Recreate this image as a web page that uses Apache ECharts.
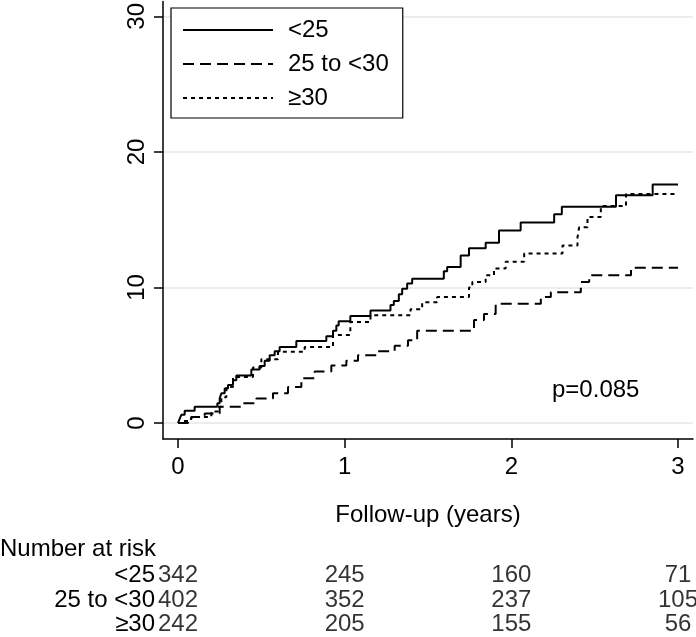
<!DOCTYPE html>
<html>
<head>
<meta charset="utf-8">
<script src="https://cdn.jsdelivr.net/npm/echarts@6/dist/echarts.min.js"></script>
<style>
html,body{margin:0;padding:0;background:#fff;}
#c{width:696px;height:637px;}
</style>
</head>
<body>
<div id="c"></div>
<script>
// ---- data (cumulative incidence, %, vs follow-up years) ----
var seriesNames = ['<25', '25 to <30', '\u226530'];
var lt25 = [[0,0],[0.01,0.3],[0.02,0.6],[0.04,0.9],[0.1,1.2],[0.236,1.45],[0.25,1.8],[0.26,2.2],[0.28,2.55],[0.3,2.8],[0.33,3.15],[0.35,3.5],[0.44,3.95],[0.49,4.2],[0.52,4.6],[0.55,5.0],[0.58,5.3],[0.61,5.6],[0.71,6.05],[0.89,6.4],[0.93,6.8],[0.95,7.2],[0.964,7.5],[1.034,7.9],[1.155,8.3],[1.275,8.7],[1.295,9.0],[1.325,9.5],[1.345,9.9],[1.375,10.3],[1.405,10.65],[1.595,11.2],[1.615,11.5],[1.696,12.35],[1.746,12.9],[1.846,13.3],[1.926,14.2],[2.056,14.8],[2.257,15.4],[2.303,15.95],[2.628,16.8],[2.848,17.6],[3.0,17.6]];
var bmi25to30 = [[0,0],[0.06,0.3],[0.08,0.45],[0.16,0.7],[0.25,1.2],[0.38,1.45],[0.47,1.8],[0.57,2.2],[0.66,2.65],[0.74,3.3],[0.82,3.8],[0.92,4.25],[1.01,4.6],[1.08,5.0],[1.2,5.3],[1.3,5.7],[1.38,6.1],[1.435,6.8],[1.776,7.6],[1.836,8.05],[1.906,8.8],[2.177,9.3],[2.237,9.65],[2.417,10.4],[2.467,10.9],[2.718,11.45],[3.0,11.45]];
var ge30 = [[0,0],[0.03,0.15],[0.06,0.3],[0.08,0.45],[0.2,0.85],[0.24,1.2],[0.26,1.9],[0.29,2.65],[0.33,3.4],[0.45,4.1],[0.5,4.7],[0.6,5.25],[0.76,5.6],[0.93,6.5],[1.034,7.45],[1.155,7.95],[1.395,8.4],[1.465,8.9],[1.555,9.3],[1.746,10.0],[1.766,10.4],[1.846,10.9],[1.896,11.4],[1.966,11.9],[2.077,12.5],[2.307,13.1],[2.397,13.7],[2.407,14.45],[2.457,15.2],[2.537,16.0],[2.688,16.9],[3.0,16.9]];
var xTicks = [0, 1, 2, 3];
var yTicks = [0, 10, 20, 30];
// number at risk
var riskTimes = [0, 1, 2, 3];
var riskLt25 = [342, 245, 160, 71];
var risk25to30 = [402, 352, 237, 105];
var riskGe30 = [242, 205, 155, 56];
var pText = 'p=0.085';
var xTitle = 'Follow-up (years)';
var riskTitle = 'Number at risk';

var FONT = '"Liberation Sans", Arial, Helvetica, sans-serif';
var FS = 24;

function riskData(row, arr) {
  return riskTimes.map(function (t, i) { return [t, row, arr[i]]; });
}

var chart = echarts.init(document.getElementById('c'), null, {renderer: 'canvas'});
var option = {
  animation: false,
  backgroundColor: '#fff',
  textStyle: {fontFamily: FONT},
  grid: [
    {left: 163, right: 3, top: 0, bottom: 198, containLabel: false},
    {left: 163, right: 3, top: 563, height: 78, containLabel: false}
  ],
  xAxis: [{
    type: 'value', gridIndex: 0, min: -0.09, max: 3.09,
    name: xTitle, nameLocation: 'middle', nameGap: 64,
    nameTextStyle: {fontSize: FS, color: '#000', fontFamily: FONT},
    axisLine: {show: true, onZero: false, lineStyle: {color: '#000', width: 1.5}},
    axisTick: {show: true, length: 9, customValues: xTicks, lineStyle: {color: '#000', width: 1.5}},
    axisLabel: {show: true, customValues: xTicks, margin: 16, fontSize: FS, color: '#000', fontFamily: FONT},
    splitLine: {show: false}
  }, {
    type: 'value', gridIndex: 1, min: -0.09, max: 3.09, show: false
  }],
  yAxis: [{
    type: 'value', gridIndex: 0, min: -1.18, max: 31.1,
    axisLine: {show: true, onZero: false, lineStyle: {color: '#000', width: 1.5}},
    axisTick: {show: true, length: 9, customValues: yTicks, lineStyle: {color: '#000', width: 1.5}},
    axisLabel: {show: true, customValues: yTicks, rotate: 90, margin: 14, fontSize: FS, color: '#000', fontFamily: FONT},
    splitLine: {show: true, lineStyle: {color: '#e6e6e6', width: 1.5}}
  }, {
    type: 'category', gridIndex: 1, inverse: true, data: seriesNames,
    axisLine: {show: false}, axisTick: {show: false},
    axisLabel: {show: true, interval: 0, margin: 8, fontSize: FS, color: '#000', fontFamily: FONT, align: 'right'},
    splitLine: {show: false}
  }],
  legend: {
    orient: 'vertical', left: 171, top: 8,
    data: seriesNames,
    itemWidth: 90, itemHeight: 20, itemGap: 10,
    padding: [10, 14, 8, 11],
    borderColor: '#000', borderWidth: 1.2, borderRadius: 0,
    backgroundColor: '#fff',
    itemStyle: {opacity: 0},
    lineStyle: {width: 2},
    textStyle: {fontSize: FS, color: '#000', fontFamily: FONT, padding: [0, 0, 0, 10]},
    selectedMode: false
  },
  series: [
    {name: seriesNames[0], type: 'line', step: 'end', data: lt25, symbol: 'none', xAxisIndex: 0, yAxisIndex: 0,
     lineStyle: {color: '#000', width: 2, type: 'solid'}, itemStyle: {color: '#000'}},
    {name: seriesNames[1], type: 'line', step: 'end', data: bmi25to30, symbol: 'none', xAxisIndex: 0, yAxisIndex: 0,
     lineStyle: {color: '#000', width: 2, type: [11, 6]}, itemStyle: {color: '#000'}},
    {name: seriesNames[2], type: 'line', step: 'end', data: ge30, symbol: 'none', xAxisIndex: 0, yAxisIndex: 0,
     lineStyle: {color: '#000', width: 2, type: [4, 4]}, itemStyle: {color: '#000'}},
    {type: 'scatter', xAxisIndex: 1, yAxisIndex: 1, symbolSize: 0, silent: true,
     data: riskData(seriesNames[0], riskLt25).concat(riskData(seriesNames[1], risk25to30), riskData(seriesNames[2], riskGe30)),
     label: {show: true, position: 'inside', formatter: function (p) { return String(p.value[2]); }, fontSize: FS, color: '#000', fontFamily: FONT}}
  ],
  graphic: [
    {type: 'text', left: 552, top: 378, style: {text: pText, fontSize: FS, fill: '#000', fontFamily: FONT}},
    {type: 'text', left: 0, top: 537, style: {text: riskTitle, fontSize: FS, fill: '#000', fontFamily: FONT}}
  ]
};
chart.setOption(option);
</script>
</body>
</html>
